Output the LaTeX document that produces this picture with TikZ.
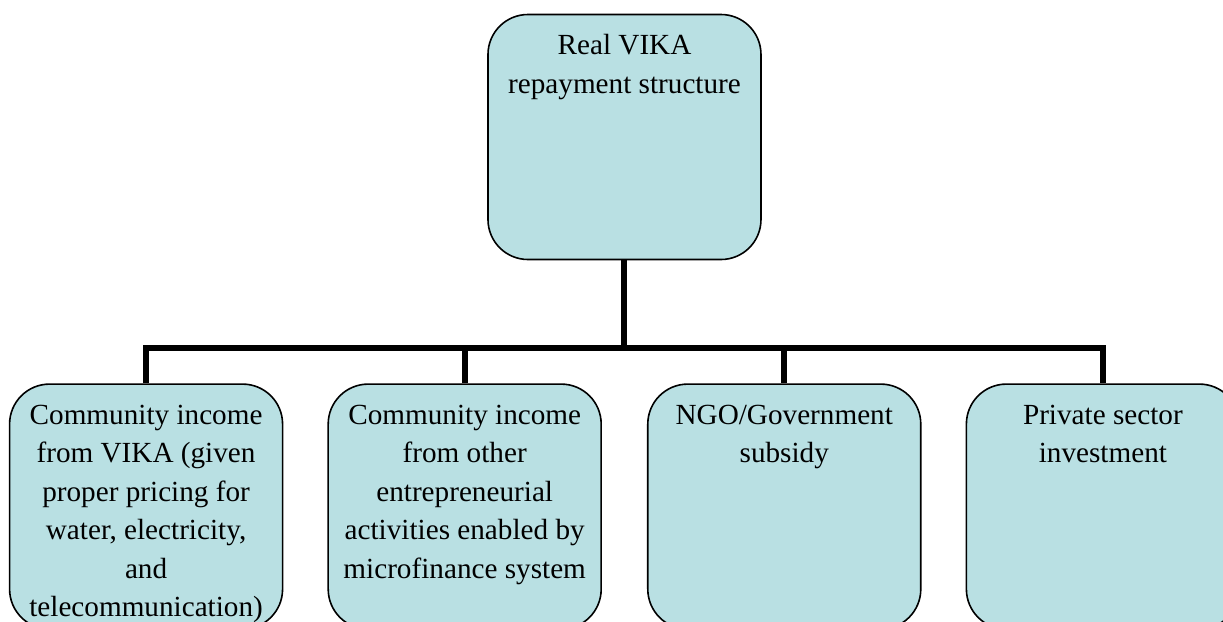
\documentclass[tikz,border=0pt]{standalone}
\usepackage{fontspec}
\setmainfont{Liberation Serif}
\usetikzlibrary{positioning}
\definecolor{boxblue}{RGB}{185,224,227}
\tikzstyle{vikabox}=[
	draw=black,
	line width=0.8pt,
	fill=boxblue,
	shape=rectangle,
	rounded corners=20pt,
	minimum width=136.5pt,
	minimum height=122.5pt,
	inner sep=0pt
]
\tikzstyle{link} = [draw,line width=3pt,-]
\newcommand{\boxtext}[1]{\parbox[c][122.5pt][t]{132pt}{\centering\fontsize{14.6}{19.25}\selectfont\rule{0pt}{20pt}#1}}

\begin{document}
\begin{tikzpicture}[node distance=22pt]

			\clip (-312.25pt,-242.5pt) rectangle (299.25pt,68.5pt);

			\node[vikabox]	(top)	{\boxtext{Real VIKA\\repayment structure}};
			\coordinate[below=44pt of top.south] (bus);

			\node[vikabox, below left=61.5pt and 11.25pt of top.south]	(b2) {\boxtext{Community income\\from other\\entrepreneurial\\activities enabled by\\microfinance system}};
			\node[vikabox, below right=61.5pt and 11.25pt of top.south]	(b3) {\boxtext{NGO/Government\\subsidy}};
			\node[vikabox, left=of b2]	(b1) {\boxtext{Community income\\from VIKA (given\\proper pricing for\\water, electricity,\\and\\telecommunication)}};
			\node[vikabox, right=of b3]	(b4) {\boxtext{Private sector\\investment}};

			\path[link] (top.south) -- (bus);
			\path[link] (b1.north) -- (b1.north |- bus) -- (b4.north |- bus) -- (b4.north);
			\path[link] 
				(b2.north |- bus) edge (b2.north)
				(b3.north |- bus) edge (b3.north);

\end{tikzpicture}
\end{document}
